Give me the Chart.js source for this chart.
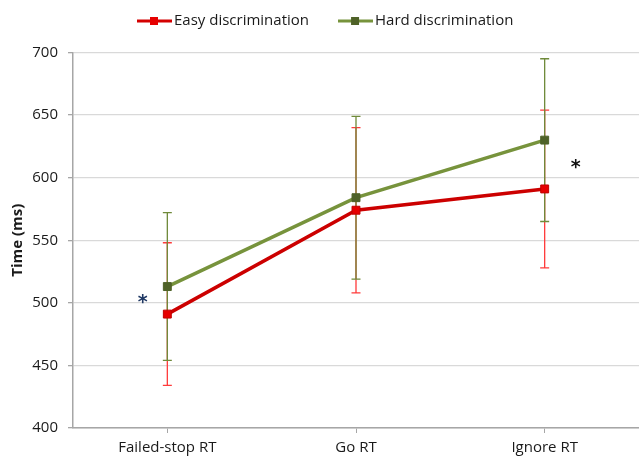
<!DOCTYPE html>
<html>
<head>
<meta charset="utf-8">
<script src="https://cdn.jsdelivr.net/npm/chart.js@4.4.0/dist/chart.umd.min.js"></script>
<style>
  body { margin: 0; background: #fff; }
  #wrap { width: 639px; height: 457px; position: relative; }
</style>
</head>
<body>
<div id="wrap"><canvas id="myChart"></canvas></div>
<script>
var categories = ["Failed-stop RT", "Go RT", "Ignore RT"];
var easyMeans = [491, 574, 591];
var easyErrors = [57, 66, 63];
var hardMeans = [513, 584, 630];
var hardErrors = [59, 65, 65];
var yMin = 400, yMax = 700, yStep = 50;
// significance marks: category index + value
var starCats = [0, 2];
var starValues = [503, 611];

function legendIcon(lineColor, boxColor) {
  var c = document.createElement("canvas");
  c.width = 35; c.height = 10;
  var g = c.getContext("2d");
  g.strokeStyle = lineColor; g.lineWidth = 3;
  g.beginPath(); g.moveTo(0, 5); g.lineTo(35, 5); g.stroke();
  g.fillStyle = boxColor; g.fillRect(13, 1, 8, 8);
  return c;
}
var icons = [legendIcon("#d40000", "#e60000"), legendIcon("#77933c", "#4f6228")];

var errorBars = {
  id: "errorBars",
  beforeDatasetsDraw: function(chart) {
    var ctx = chart.ctx, x = chart.scales.x, y = chart.scales.y;
    chart.data.datasets.forEach(function(ds) {
      ds.data.forEach(function(v, j) {
        var px = x.getPixelForValue(j);
        var top = y.getPixelForValue(v + ds.errors[j]);
        var bot = y.getPixelForValue(v - ds.errors[j]);
        ctx.save();
        ctx.strokeStyle = ds.errorColor;
        ctx.lineWidth = 1.3;
        ctx.beginPath();
        ctx.moveTo(px, top); ctx.lineTo(px, bot);
        ctx.moveTo(px - 4.5, top); ctx.lineTo(px + 4.5, top);
        ctx.moveTo(px - 4.5, bot); ctx.lineTo(px + 4.5, bot);
        ctx.stroke();
        ctx.restore();
      });
    });
  }
};

var stars = {
  id: "stars",
  afterDatasetsDraw: function(chart) {
    var ctx = chart.ctx, x = chart.scales.x, y = chart.scales.y;
    ctx.save();
    ctx.font = "bold 19px 'DejaVu Sans'";
    ctx.textAlign = "center";
    ctx.textBaseline = "alphabetic";
    for (var i = 0; i < starCats.length; i++) {
      var shift = i == 0 ? -0.13 : 0.165;
      var px = x.getPixelForValue(starCats[i] + shift);
      var py = y.getPixelForValue(starValues[i]);
      var m = ctx.measureText("*");
      var mid = (m.actualBoundingBoxAscent - m.actualBoundingBoxDescent) / 2;
      ctx.fillStyle = i == 0 ? "#1f3864" : "#111111";
      ctx.fillText("*", px, py + mid);
    }
    ctx.restore();
  }
};

var legendPlace = {
  id: "legendPlace",
  afterLayout: function(chart) {
    var lg = chart.legend;
    lg.left = 108;
    lg.top = -21;
  }
};

new Chart("myChart", {
  type: "line",
  data: {
    labels: categories,
    datasets: [{
      label: "Easy discrimination",
      data: easyMeans,
      errors: easyErrors,
      errorColor: "#ff3b3b",
      borderColor: "#cc0000",
      borderWidth: 3.5,
      pointStyle: "rect",
      pointRadius: 5.6,
      pointBackgroundColor: "#e60000",
      pointBorderColor: "#c00000",
      pointBorderWidth: 1,
      tension: 0
    }, {
      label: "Hard discrimination",
      data: hardMeans,
      errors: hardErrors,
      errorColor: "#6f8a3a",
      borderColor: "#77933c",
      borderWidth: 3.5,
      pointStyle: "rect",
      pointRadius: 5.6,
      pointBackgroundColor: "#4f6228",
      pointBorderColor: "#4f6228",
      pointBorderWidth: 1,
      tension: 0
    }]
  },
  options: {
    responsive: true,
    maintainAspectRatio: false,
    animation: false,
    layout: { autoPadding: false, padding: { top: -7, right: 0, left: 0, bottom: 0 } },
    plugins: {
      tooltip: { enabled: false },
      legend: {
        display: true,
        position: "top",
        align: "start",
        labels: {
          usePointStyle: true,
          pointStyleWidth: 24,
          padding: 34.5,
          color: "#1a1a1a",
          font: { family: "'Open Sans'", size: 15 },
          generateLabels: function(chart) {
            var items = Chart.defaults.plugins.legend.labels.generateLabels(chart);
            items.forEach(function(it, i) { it.pointStyle = icons[i]; });
            return items;
          }
        }
      }
    },
    scales: {
      x: {
        offset: true,
        afterFit: function(s) { s.height = 29; },
        border: { color: "#a6a6a6", width: 1.5 },
        grid: { drawOnChartArea: false, drawTicks: true, tickLength: 5, tickColor: "#a6a6a6", offset: false },
        ticks: { color: "#1a1a1a", padding: 6, font: { family: "'Open Sans'", size: 15 } }
      },
      y: {
        min: yMin,
        max: yMax,
        afterFit: function(s) { s.width = 73; },
        border: { color: "#a6a6a6", width: 1.5 },
        grid: { color: "#d9d9d9", lineWidth: 1.3, tickLength: 5, tickColor: "#a6a6a6" },
        ticks: { stepSize: yStep, color: "#1a1a1a", padding: 10, font: { family: "'Open Sans'", size: 15 } },
        title: { display: true, text: "Time (ms)", color: "#1a1a1a", padding: { top: 9, bottom: 0 }, font: { family: "'Open Sans'", size: 15, weight: "bold" } }
      }
    }
  },
  plugins: [errorBars, stars, legendPlace]
});
</script>
</body>
</html>
